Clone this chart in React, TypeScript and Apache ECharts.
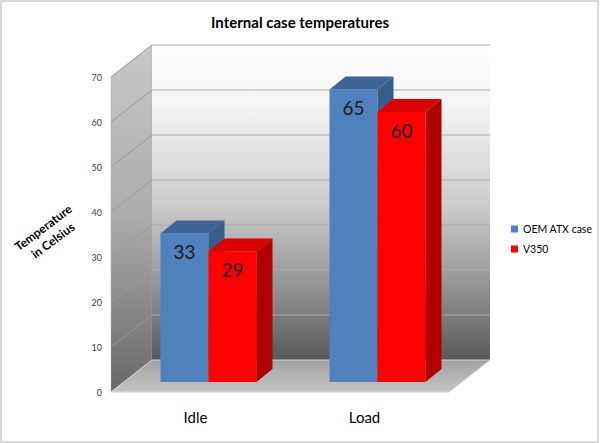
import React, { useEffect, useRef } from "react";
import * as echarts from "echarts";

const categories = ["Idle", "Load"];
const seriesNames = ["OEM ATX case", "V350"];
const oemValues = [33, 65];
const v350Values = [29, 60];
const yTicks = [0, 10, 20, 30, 40, 50, 60, 70];
const Y_MAX = 70;

const FONT = "Lato, 'Open Sans', sans-serif";
const WALL_DX = 41;
const WALL_DY = -32;
const BAR_FX = 13;
const BAR_FY = -10;
const BAR_DX = 16;
const BAR_DY = -13;
const BAR_RATIO = 0.284;

const palette = [
  { front: "#4f81bd", top: "#3e6597", side: "#385d8a" },
  { front: "#ff0000", top: "#dd0000", side: "#b00000" },
];

function renderWalls(params: any, api: any) {
  const cs = params.coordSys;
  const x0 = cs.x;
  const x1 = cs.x + cs.width;
  const yb = api.coord([0, 0])[1];
  const yt = api.coord([0, Y_MAX])[1];
  const children: any[] = [];
  children.push({
    type: "polygon",
    shape: {
      points: [
        [x0, yb],
        [x0 + WALL_DX, yb + WALL_DY],
        [x0 + WALL_DX, yt + WALL_DY],
        [x0, yt],
      ],
    },
    style: {
      fill: new echarts.graphic.LinearGradient(0, 0, 0, 1, [
        { offset: 0, color: "#c8c8c8" },
        { offset: 0.5, color: "#ababab" },
        { offset: 1, color: "#686868" },
      ]),
      stroke: "#a8a8a8",
      lineWidth: 0.5,
    },
  });
  children.push({
    type: "rect",
    shape: { x: x0 + WALL_DX, y: yt + WALL_DY, width: x1 - x0, height: yb - yt },
    style: {
      fill: new echarts.graphic.LinearGradient(0, 0, 0, 1, [
        { offset: 0, color: "#ffffff" },
        { offset: 0.18, color: "#f6f6f6" },
        { offset: 0.5, color: "#cdcdcd" },
        { offset: 0.8, color: "#8c8c8c" },
        { offset: 1, color: "#585858" },
      ]),
    },
  });
  children.push({
    type: "polygon",
    shape: {
      points: [
        [x0, yb],
        [x1, yb],
        [x1 + WALL_DX, yb + WALL_DY],
        [x0 + WALL_DX, yb + WALL_DY],
      ],
    },
    style: {
      fill: new echarts.graphic.LinearGradient(0, 0, 0, 1, [
        { offset: 0, color: "#a2a2a2" },
        { offset: 1, color: "#c6c6c6" },
      ]),
      stroke: "#d4d4d4",
      lineWidth: 1,
    },
  });
  yTicks.forEach((v) => {
    if (v === 0) return;
    const y = api.coord([0, v])[1];
    children.push({
      type: "line",
      shape: { x1: x0 + WALL_DX, y1: y + WALL_DY, x2: x1 + WALL_DX, y2: y + WALL_DY },
      style: { stroke: "#a9a9a9", lineWidth: 1.2 },
    });
    children.push({
      type: "line",
      shape: { x1: x0, y1: y, x2: x0 + WALL_DX, y2: y + WALL_DY },
      style: { stroke: "#9a9a9a", lineWidth: 1 },
    });
  });
  return { type: "group", children };
}

function makeBarRenderer(si: number) {
  const c = palette[si];
  return function (params: any, api: any) {
    const ci = api.value(0);
    const v = api.value(1);
    const top = api.coord([ci, v]);
    const base = api.coord([ci, 0]);
    const band = api.size([1, 0])[0];
    const w = band * BAR_RATIO;
    const fx = top[0] - w + si * w + BAR_FX;
    const ft = top[1] + BAR_FY;
    const fb = base[1] + BAR_FY;
    return {
      type: "group",
      children: [
        {
          type: "rect",
          shape: { x: fx, y: ft, width: w, height: fb - ft },
          style: { fill: c.front },
        },
        {
          type: "polygon",
          shape: {
            points: [
              [fx, ft],
              [fx + w, ft],
              [fx + w + BAR_DX, ft + BAR_DY],
              [fx + BAR_DX, ft + BAR_DY],
            ],
          },
          style: { fill: c.top },
        },
        {
          type: "polygon",
          shape: {
            points: [
              [fx + w, ft],
              [fx + w + BAR_DX, ft + BAR_DY],
              [fx + w + BAR_DX, fb + BAR_DY],
              [fx + w, fb],
            ],
          },
          style: { fill: c.side },
        },
        {
          type: "text",
          style: {
            text: String(v),
            x: fx + w / 2,
            y: ft + 18,
            fill: "#1a1a1a",
            font: `19px ${FONT}`,
            align: "center",
            verticalAlign: "middle",
          },
        },
      ],
    };
  };
}

export default function App() {
  const ref = useRef<HTMLDivElement>(null);
  useEffect(() => {
    if (!ref.current) return;
    const chart = echarts.init(ref.current, undefined, { renderer: "svg" });
    const option: any = {
      animation: false,
      backgroundColor: "#ffffff",
      textStyle: { fontFamily: FONT },
      title: {
        text: "Internal case temperatures",
        left: "center",
        top: 9,
        textStyle: { fontSize: 15, fontWeight: "bold", color: "#000", fontFamily: FONT },
      },
      legend: {
        data: seriesNames,
        orient: "vertical",
        left: 506,
        top: 217,
        icon: "rect",
        itemWidth: 7,
        itemHeight: 7,
        itemGap: 6,
        textStyle: { fontSize: 10.5, color: "#000", lineHeight: 14, fontFamily: FONT },
      },
      grid: { left: 111, right: 151, top: 77, bottom: 51 },
      xAxis: {
        type: "category",
        data: categories,
        axisLine: { show: false },
        axisTick: { show: false },
        axisLabel: { fontSize: 15, color: "#000", margin: 17, fontFamily: FONT },
      },
      yAxis: {
        type: "value",
        min: 0,
        max: Y_MAX,
        interval: 10,
        axisLine: { show: false },
        axisTick: { show: false },
        splitLine: { show: false },
        axisLabel: { fontSize: 9, color: "#404040", margin: 9, fontFamily: FONT },
      },
      graphic: [
        {
          type: "rect",
          shape: { x: 1, y: 1, width: 597, height: 441 },
          style: { fill: "none", stroke: "#d9d9d9", lineWidth: 2 },
          z: 100,
        },
        {
          type: "text",
          x: 48,
          y: 234,
          rotation: (37 * Math.PI) / 180,
          style: {
            text: "Temperature\nin Celsius",
            font: `bold 12px ${FONT}`,
            fill: "#000",
            align: "center",
            verticalAlign: "middle",
            lineHeight: 16,
          },
        },
      ],
      series: [
        {
          type: "custom",
          name: "walls",
          silent: true,
          clip: false,
          z: 1,
          data: [[0, 0]],
          renderItem: renderWalls,
        },
        {
          type: "custom",
          name: seriesNames[0],
          clip: false,
          z: 2,
          itemStyle: { color: palette[0].front },
          data: categories.map((_, i) => [i, oemValues[i]]),
          renderItem: makeBarRenderer(0),
        },
        {
          type: "custom",
          name: seriesNames[1],
          clip: false,
          z: 3,
          itemStyle: { color: palette[1].front },
          data: categories.map((_, i) => [i, v350Values[i]]),
          renderItem: makeBarRenderer(1),
        },
      ],
    };
    chart.setOption(option);
    return () => chart.dispose();
  }, []);
  return (
    <div
      ref={ref}
      style={{ position: "fixed", left: 0, top: 0, width: 600, height: 443 }}
    />
  );
}
